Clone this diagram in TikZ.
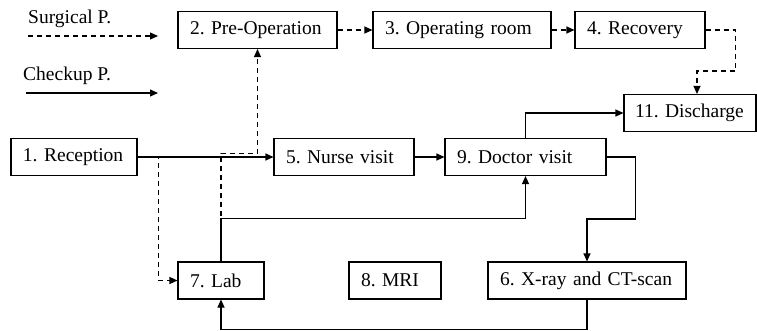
\documentclass[tikz,border=0pt]{standalone}
\usepackage{fontspec}
\setmainfont{Liberation Serif}
\usetikzlibrary{arrows.meta}
\frenchspacing
\hyphenpenalty=10000
\tikzset{
	box/.style={draw, line width=1.1pt, inner xsep=12pt, minimum height=37pt, align=left},
	chk/.style={line width=1.1pt, -{Triangle[length=8pt,width=7pt]}},
	surg/.style={chk, dash pattern=on 5pt off 4pt},
}
\begin{document}
\begin{tikzpicture}[x=1pt, y=-1pt, font=\fontsize{19.5}{23}\selectfont]
		\useasboundingbox (0,0) rectangle (757,331);
		
		\node[anchor=west, inner sep=0] (surg-lbl) at (28,19) {Surgical P.};
		\node[anchor=west, inner sep=0] (chk-lbl) at (23,76) {Checkup P.};
		\coordinate (surg-a) at (28,36);
		\coordinate (surg-b) at (158,36);
		\coordinate (chk-a) at (26,93);
		\coordinate (chk-b) at (158,93);
		
		\node[box, text width=135pt] (preop) at (257.5,30) {2. Pre-Operation};
		\node[box, text width=154pt] (oproom) at (462,30) {3. Operating room};
		\node[box, text width=106pt] (recov) at (640,30) {4. Recovery};
		\node[box, text width=110pt, inner xsep=11pt] (disch) at (690,113) {11. Discharge};
		
		\node[box, text width=102pt] (rec) at (74,157) {1. Reception};
		\node[box, text width=116pt] (nurse) at (344,157) {5. Nurse visit};
		\node[box, text width=137pt] (doctor) at (525.5,157) {9. Doctor visit};
		
		\node[box, text width=62pt] (lab) at (221,280.5) {7. Lab};
		\node[box, text width=68pt] (mri) at (395,280.5) {8. MRI};
		\node[box, text width=174pt] (xray) at (587,280.5) {6. X-ray and CT-scan};
		
		\draw[surg] (surg-a) -- (surg-b);
		\draw[chk] (chk-a) -- (chk-b);
		
		\draw[chk] (rec) -- (nurse);
		\draw[chk] (nurse) -- (doctor);
		\draw[chk] (lab.north) -- ++(0,-43) -| (doctor.south);
		\draw[chk] (doctor.east) -| ++(29,62) -| (xray.north);
		\draw[chk] (xray.south) -- ++(0,30) -| (lab.south);
		\draw[chk] (doctor.north) |- (disch.west);
		
		\draw[surg] (rec.east) -- ++(21,0) |- (lab.west);
		\draw[surg] (lab.north) -- ++(0,-108) -| (preop.south);
		\draw[surg] (preop) -- (oproom);
		\draw[surg] (oproom) -- (recov);
		\draw[surg] (recov.east) -| ++(30,41) -| ([xshift=7pt]disch.north);
	\end{tikzpicture}
\end{document}
